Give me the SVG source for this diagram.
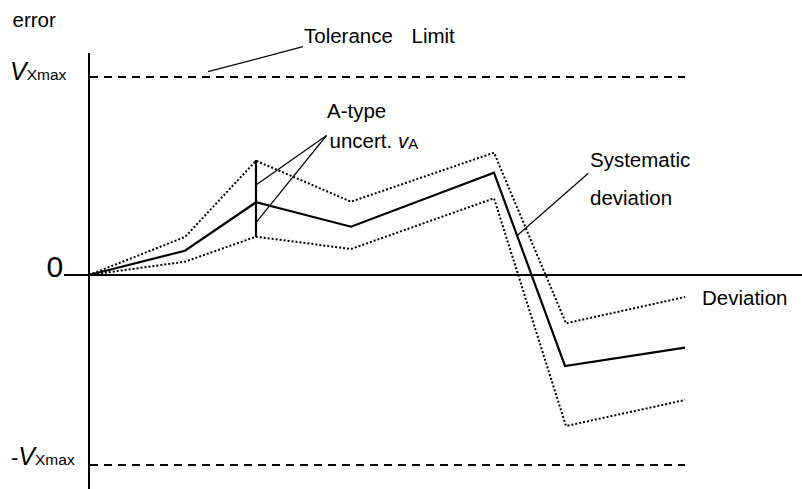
<svg xmlns="http://www.w3.org/2000/svg" width="802" height="489" viewBox="0 0 802 489">
<style>
text{font-family:"Liberation Sans",Arial,sans-serif;fill:#000}
.lbl{font-size:20.5px}
.axis{stroke:#000;stroke-width:2;fill:none}
.dash{stroke:#000;stroke-width:2;stroke-dasharray:8 6;fill:none}
.dot{stroke:#000;stroke-width:2;stroke-dasharray:2 2;fill:none}
.sys{stroke:#000;stroke-width:2.2;fill:none;stroke-linejoin:miter}
.lead{stroke:#000;stroke-width:1.2;fill:none}
</style>
<rect width="802" height="489" fill="#fff"/>
<g id="axes">
<line class="axis" x1="89" y1="53" x2="89" y2="489"/>
<line class="axis" x1="64" y1="275" x2="802" y2="275"/>
</g>
<g id="limits">
<line class="dash" x1="90" y1="77" x2="685" y2="77"/>
<line class="dash" x1="90" y1="465" x2="685" y2="465"/>
</g>
<g id="curves">
<polyline class="dot" points="89,275 185,237 256,160.7 351,201.7 494,152.7 566,323.3 685,297"/>
<polyline class="dot" points="89,275 185,261.7 256,236.7 351,249 494,198.3 566,426 685,400"/>
<polyline class="sys" points="89,275 185,250.7 256,202.3 351,226.7 494,172.7 565,366 685,347.7"/>
<line class="sys" x1="256" y1="160" x2="256" y2="237"/>
</g>
<g id="connectors">
<line class="lead" x1="208" y1="71.7" x2="303" y2="46.7"/>
<line class="lead" x1="256" y1="185" x2="326.5" y2="135.5"/>
<line class="lead" x1="256" y1="222.7" x2="326.5" y2="135.5"/>
<line class="lead" x1="516.7" y1="236" x2="588.3" y2="173.3"/>
</g>
<g id="labels">
<text class="lbl" x="12.5" y="26.7">error</text>
<text x="10" y="80" font-size="25" font-style="italic">V<tspan font-size="15.5" font-style="normal">Xmax</tspan></text>
<text x="11" y="465" font-size="25"><tspan font-size="22">-</tspan><tspan font-style="italic">V</tspan><tspan font-size="15.5">Xmax</tspan></text>
<text x="46.5" y="277" font-size="30">0</text>
<text class="lbl" x="304" y="42.7">Tolerance<tspan x="411.5">Limit</tspan></text>
<text class="lbl" x="327" y="117.7">A-type</text>
<text class="lbl" x="329.5" y="148">uncert.<tspan x="398" font-style="italic">v</tspan><tspan font-size="15" dy="1">A</tspan></text>
<text class="lbl" x="590" y="166.7">Systematic</text>
<text class="lbl" x="590" y="204.5">deviation</text>
<text class="lbl" x="702" y="305">Deviation</text>
</g>
</svg>
